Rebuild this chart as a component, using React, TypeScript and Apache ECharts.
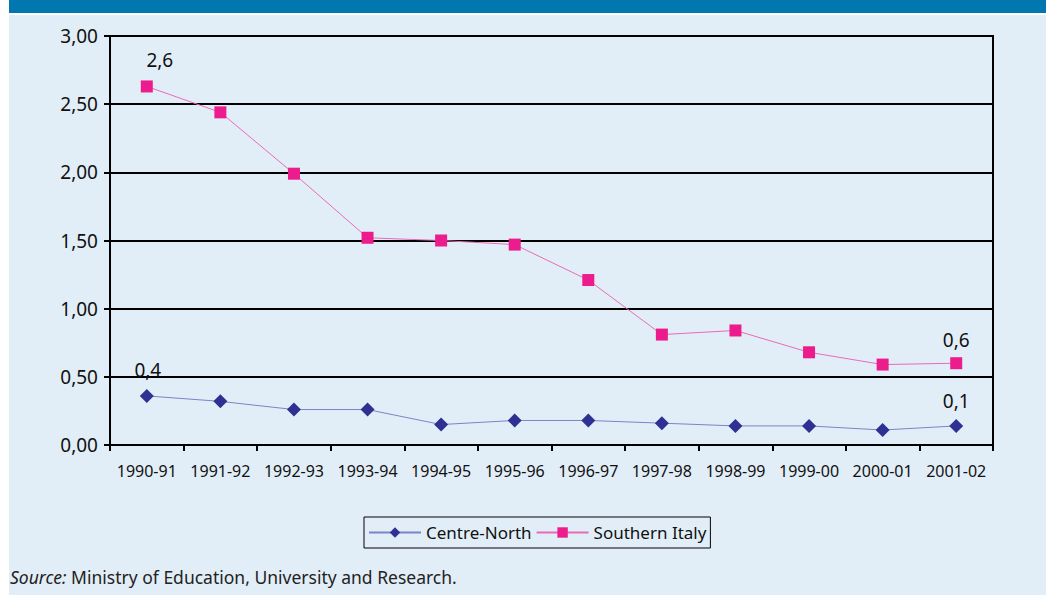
import React, { useEffect, useRef } from "react";
import * as echarts from "echarts";

const categories = [
  "1990-91", "1991-92", "1992-93", "1993-94", "1994-95", "1995-96",
  "1996-97", "1997-98", "1998-99", "1999-00", "2000-01", "2001-02",
];
const xTickLabels = [
  "1990-91", "1991-92", "1992-93", "1993-94", "1994-95", "1995-96",
  "1996-97", "1997-98", "1998-99", "1999-00", "2000-01", "2001-02",
];
const centreNorth = [0.36, 0.32, 0.26, 0.26, 0.15, 0.18, 0.18, 0.16, 0.14, 0.14, 0.11, 0.14];
const southernItaly = [2.63, 2.44, 1.99, 1.52, 1.5, 1.47, 1.21, 0.81, 0.84, 0.68, 0.59, 0.6];
const labelledIndices = [0, 11];
const seriesNames = ["Centre-North", "Southern Italy"];
const sourceLabel = "Source:";
const sourceText = " Ministry of Education, University and Research.";

const FONT = "'Noto Sans', sans-serif";

function withLabels(values: number[], offsets: Record<number, number[]>) {
  return values.map((v, i) =>
    labelledIndices.includes(i)
      ? {
          value: v,
          label: {
            show: true,
            position: "top",
            offset: offsets[i] || [0, 0],
            formatter: (p: any) => Number(p.value).toFixed(1).replace(".", ","),
            fontSize: 19,
            color: "#111",
            fontFamily: FONT,
          },
        }
      : v
  );
}

export default function App() {
  const ref = useRef<HTMLDivElement>(null);
  useEffect(() => {
    if (!ref.current) return;
    const chart = echarts.init(ref.current, undefined, { renderer: "svg" });
    chart.setOption({
      animation: false,
      backgroundColor: "#ffffff",
      graphic: [
        { type: "rect", z: -10, shape: { x: 9, y: 15, width: 1037, height: 580 }, style: { fill: "#E2EEF7" } },
        { type: "rect", z: -10, shape: { x: 9, y: 0, width: 1037, height: 13 }, style: { fill: "#0077AE" } },
        {
          type: "text",
          left: 10,
          top: 568,
          style: {
            text: `{i|${sourceLabel}}{n|${sourceText}}`,
            rich: {
              i: { fontStyle: "italic", fontSize: 17.5, fontFamily: FONT, fill: "#222" },
              n: { fontSize: 17.5, fontFamily: FONT, fill: "#222" },
            },
          },
        },
      ],
      grid: {
        left: 110,
        right: 53,
        top: 36,
        bottom: 150,
        show: true,
        borderColor: "#000",
        borderWidth: 2,
        backgroundColor: "transparent",
      },
      legend: {
        left: 364,
        top: 517,
        padding: [7, 4, 7, 4],
        borderColor: "#000",
        borderWidth: 1,
        itemWidth: 52,
        itemHeight: 13,
        itemGap: 4,
        data: seriesNames,
        textStyle: { fontSize: 17, color: "#111", fontFamily: FONT },
      },
      xAxis: {
        type: "category",
        data: categories,
        boundaryGap: true,
        axisLine: { lineStyle: { color: "#000", width: 2 } },
        axisTick: { show: true, length: 6, lineStyle: { color: "#000", width: 2 } },
        axisLabel: {
          margin: 18,
          fontSize: 16,
          color: "#111",
          fontFamily: FONT,
          interval: 0,
          formatter: (v: string, i: number) => xTickLabels[i] ?? v,
        },
      },
      yAxis: {
        type: "value",
        min: 0,
        max: 3,
        interval: 0.5,
        axisLine: { show: true, lineStyle: { color: "#000", width: 2 } },
        axisTick: { show: true, length: 6, lineStyle: { color: "#000", width: 2 } },
        axisLabel: {
          margin: 12,
          fontSize: 19,
          color: "#111",
          fontFamily: FONT,
          formatter: (v: number) => v.toFixed(2).replace(".", ","),
        },
        splitLine: { show: true, lineStyle: { color: "#000", width: 2 } },
      },
      series: [
        {
          name: seriesNames[0],
          type: "line",
          data: withLabels(centreNorth, { 0: [1, -4], 11: [0, -3] }),
          symbol: "diamond",
          symbolSize: 14,
          itemStyle: { color: "#2E3192" },
          lineStyle: { color: "#7E82C8", width: 1 },
          z: 3,
        },
        {
          name: seriesNames[1],
          type: "line",
          data: withLabels(southernItaly, { 0: [13, -6], 11: [0, -3] }),
          symbol: "rect",
          symbolSize: 12,
          itemStyle: { color: "#EC1C8C" },
          lineStyle: { color: "#E86BB8", width: 1 },
          z: 3,
        },
      ],
    });
    return () => chart.dispose();
  }, []);
  return (
    <div
      ref={ref}
      style={{ position: "absolute", left: 0, top: 0, width: 1046, height: 595 }}
    />
  );
}
